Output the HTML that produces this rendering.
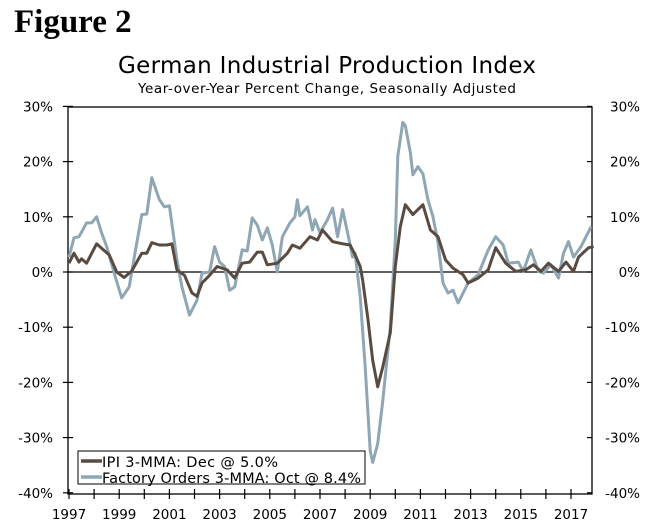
<!DOCTYPE html>
<html><head><meta charset="utf-8"><style>
body{margin:0;background:#fff;width:656px;height:527px;overflow:hidden}
svg{display:block}
text{font-family:"DejaVu Sans","Liberation Sans",sans-serif;fill:#000}
</style></head><body>
<svg id="chart" width="656" height="527">
<text x="14" y="32" style="font-family:'Liberation Serif',serif;font-weight:bold;font-size:33px">Figure 2</text>
<text x="327" y="73" text-anchor="middle" font-size="23" textLength="418">German Industrial Production Index</text>
<text x="327" y="93" text-anchor="middle" font-size="13.5" textLength="378">Year-over-Year Percent Change, Seasonally Adjusted</text>
<g id="axes"></g><g id="series"></g>
<g>
<rect x="78" y="451" width="287" height="33" fill="#fff" stroke="#000" stroke-width="1"/>
<line x1="81" y1="461" x2="102" y2="461" stroke="#5a4b41" stroke-width="3.5"/>
<text x="102" y="467" font-size="14.5" textLength="176">IPI 3-MMA: Dec @ 5.0%</text>
<line x1="81" y1="477" x2="102" y2="477" stroke="#8fa6b4" stroke-width="3.5"/>
<text x="102" y="483" font-size="14.5" textLength="259">Factory Orders 3-MMA: Oct @ 8.4%</text>
</g>
</svg>
<script>
const yTicks=[30,20,10,0,-10,-20,-30,-40];
const xLabels=[1997,1999,2001,2003,2005,2007,2009,2011,2013,2015,2017];
const ipiYears=[1997.0,1997.2,1997.4,1997.5,1997.7,1998.1,1998.3,1998.6,1998.9,1999.2,1999.5,1999.9,2000.1,2000.3,2000.6,2000.9,2001.1,2001.3,2001.6,2001.9,2002.1,2002.3,2002.6,2002.9,2003.3,2003.6,2003.9,2004.2,2004.5,2004.7,2004.9,2005.3,2005.7,2005.9,2006.2,2006.6,2006.9,2007.1,2007.5,2007.9,2008.2,2008.4,2008.6,2008.7,2008.9,2009.1,2009.3,2009.5,2009.8,2010.0,2010.2,2010.4,2010.7,2010.9,2011.1,2011.4,2011.7,2012.0,2012.3,2012.7,2012.9,2013.3,2013.7,2014.0,2014.4,2014.8,2015.2,2015.5,2015.8,2016.1,2016.5,2016.8,2017.1,2017.3,2017.7,2017.9];
const ipiValues=[1.6,3.4,1.8,2.4,1.6,5.1,4.3,3.1,0,-1,0.2,3.4,3.4,5.3,4.9,4.9,5.1,0.4,-0.6,-3.8,-4.4,-2,-0.6,1.0,0.4,-1.1,1.6,1.8,3.6,3.6,1.3,1.6,3.4,4.9,4.3,6.4,5.8,7.6,5.5,5.1,4.9,3.1,1.0,-1.5,-8.2,-16,-20.8,-17.2,-11,1,8.2,12.2,10.4,11.3,12.2,7.6,6.4,2.2,0.7,-0.5,-2,-1.1,0.4,4.4,1.6,0.1,0.4,1.3,0.1,1.6,0.1,1.8,0.1,2.7,4.4,4.6];
const ordYears=[1997.0,1997.2,1997.4,1997.7,1997.9,1998.1,1998.3,1998.5,1998.8,1999.1,1999.4,1999.6,1999.9,2000.1,2000.3,2000.6,2000.8,2001.0,2001.3,2001.5,2001.8,2002.1,2002.3,2002.6,2002.8,2003.0,2003.2,2003.4,2003.6,2003.9,2004.1,2004.3,2004.5,2004.7,2004.9,2005.1,2005.3,2005.5,2005.8,2006.0,2006.1,2006.2,2006.5,2006.7,2006.8,2007.0,2007.3,2007.5,2007.7,2007.9,2008.1,2008.3,2008.4,2008.6,2008.8,2009.0,2009.1,2009.3,2009.5,2009.8,2010.0,2010.1,2010.3,2010.4,2010.6,2010.7,2010.9,2011.1,2011.3,2011.5,2011.7,2011.9,2012.1,2012.3,2012.5,2012.9,2013.3,2013.7,2014.0,2014.3,2014.5,2014.9,2015.1,2015.4,2015.7,2015.9,2016.2,2016.5,2016.7,2016.9,2017.1,2017.4,2017.8];
const ordValues=[2.7,6.2,6.4,8.9,8.9,10,7.1,4.6,-0.2,-4.7,-2.7,2.7,10.4,10.5,17.1,13.1,11.8,12,2.2,-2.7,-7.8,-5.1,-0.2,0,4.6,1.8,1,-3.3,-2.7,4,3.8,9.8,8.5,5.8,8,4.9,0,6.4,8.9,10,13.1,10.2,11.8,7.6,9.5,7.1,9.5,11.6,6.4,11.3,7.1,2.7,3.4,-4.5,-17.2,-32.4,-34.5,-31.1,-23.3,-10,5.8,21,27.1,26.5,21.6,17.6,19.1,17.8,13.1,10,5.3,-2,-3.8,-3.3,-5.6,-2,-0.5,4,6.4,4.9,1.6,1.8,0.1,4,0.1,-0.2,1.3,-1.1,3.4,5.5,2.7,4.6,8.2];
const L=68,R=592,T=107,B=494;
const xs=y=>69+(y-1997)*25.1;
const ys=v=>272-v*5.52;
const NS='http://www.w3.org/2000/svg';
function mk(tag,attrs,parent){const e=document.createElementNS(NS,tag);for(const k in attrs)e.setAttribute(k,attrs[k]);parent.appendChild(e);return e;}
const ax=document.getElementById('axes');
let f=mk('rect',{x:L,y:T,width:R-L,height:B-T,fill:'none',stroke:'#000','stroke-width':1.3},ax);


let z=mk('line',{x1:L,x2:R,y1:ys(0),y2:ys(0),stroke:'#000','stroke-width':1.3},ax);


yTicks.forEach(v=>{
 const y=ys(v);
 mk('line',{x1:L-5,x2:L+5,y1:y,y2:y,stroke:'#000','stroke-width':1.2},ax);
 mk('line',{x1:R-5,x2:R,y1:y,y2:y,stroke:'#000','stroke-width':1.2},ax);
 const t1=mk('text',{x:53,y:y+5,'text-anchor':'end','font-size':13.5},ax);t1.textContent=v+'%';
 
 
 const t2=mk('text',{x:640,y:y+5,'text-anchor':'end','font-size':13.5},ax);t2.textContent=v+'%';
 
 
});
for(let yr=1997;yr<=2017;yr++){const x=xs(yr);mk('line',{x1:x,x2:x,y1:B-5,y2:B+5,stroke:'#000','stroke-width':1.2},ax);}
xLabels.forEach(yr=>{const t=mk('text',{x:xs(yr),y:519,'text-anchor':'middle','font-size':13.5},ax);t.textContent=yr;
 
 });
const sg=document.getElementById('series');
function line(xsA,vs,color,name){
 const d=xsA.map((y,i)=>(i?'L':'M')+xs(y).toFixed(1)+','+ys(vs[i]).toFixed(1)).join('');
 const p=mk('path',{d:d,fill:'none',stroke:color,'stroke-width':3,'stroke-linejoin':'round'},sg);
 
 
}
line(ordYears,ordValues,'#8fa6b4','factory-orders-line');
line(ipiYears,ipiValues,'#5a4b41','ipi-line');
</script>
</body></html>
